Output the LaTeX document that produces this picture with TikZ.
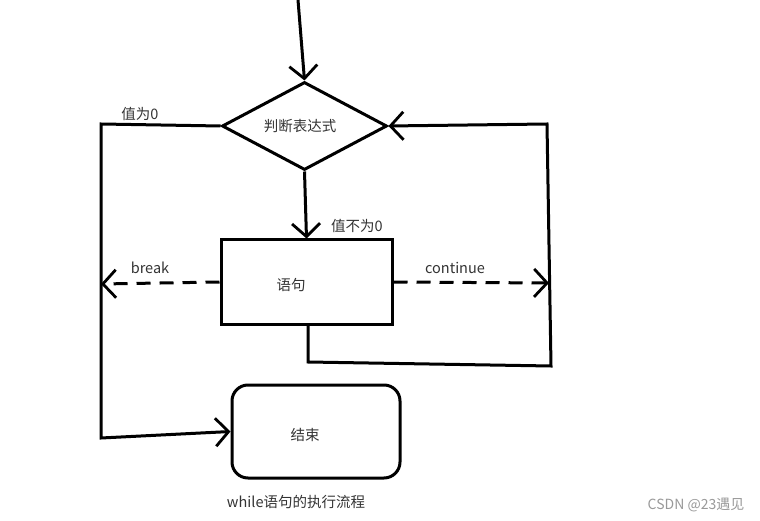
\documentclass[tikz,border=0pt]{standalone}
\usepackage{fontspec}
\newfontfamily\cjk{Noto Sans CJK SC}
\usetikzlibrary{shapes.geometric,arrows.meta}
\definecolor{txt}{HTML}{333333}
\definecolor{wm}{HTML}{999999}
\tikzset{
  ln/.style={line width=3pt, line join=miter},
  arr/.style={ln, -{Straight Barb[length=13pt,width=28pt,line width=2.8pt]}},
  dsh/.style={dash pattern=on 14pt off 9pt},
  lbl/.style={font=\cjk\fontsize{14.5}{16}\selectfont, text=txt, inner sep=0pt},
}
\begin{document}
\begin{tikzpicture}[x=1pt,y=-1pt]
\useasboundingbox (0,0) rectangle (760,521);
\node[diamond, draw, ln, aspect=1.875, minimum width=165pt, minimum height=88pt, inner sep=0pt] (d) at (304.5,126) {};
\node[lbl] (dt) at (300,126) {判断表达式};
\node[rectangle, draw, ln, minimum width=171pt, minimum height=84pt, inner sep=0pt] (s) at (306.5,282) {};
\node[lbl] (st) at (291,285) {语句};
\node[rectangle, draw, ln, rounded corners=16pt, minimum width=168pt, minimum height=93pt, inner sep=0pt] (e) at (316,431.5) {};
\node[lbl] (et) at (305,435) {结束};
\coordinate (top) at (298,0);
\coordinate (lt) at (101,124);
\coordinate (lb) at (101,438);
\coordinate (bl) at (101,284);
\coordinate (br) at (549,283);
\coordinate (sb) at (308,324);
\coordinate (sb2) at (308,362);
\coordinate (rb) at (551,366);
\coordinate (rt) at (547,124);
\draw[arr] (top) -- (d.north);
\draw[arr] (d.south) -- (s.north);
\draw[arr] (d.west) -- (lt) -- (lb) -- (e.west);
\draw[arr, dsh] (s.west) -- (bl);
\draw[arr, dsh] (s.east) -- (br);
\draw[arr] (sb) -- (sb2) -- (rb) -- (rt) -- (d.east);
\node[lbl] (l1) at (140,114) {值为0};
\node[lbl] (l2) at (357,226) {值不为0};
\node[lbl] (l3) at (150,268) {break};
\node[lbl] (l4) at (455,268) {continue};
\node[lbl] (cap) at (296,502) {while语句的执行流程};
\node[lbl, text=wm, font=\cjk\fontsize{14}{16}\selectfont] (w) at (696,505) {CSDN @23遇见};
\end{tikzpicture}
\end{document}
